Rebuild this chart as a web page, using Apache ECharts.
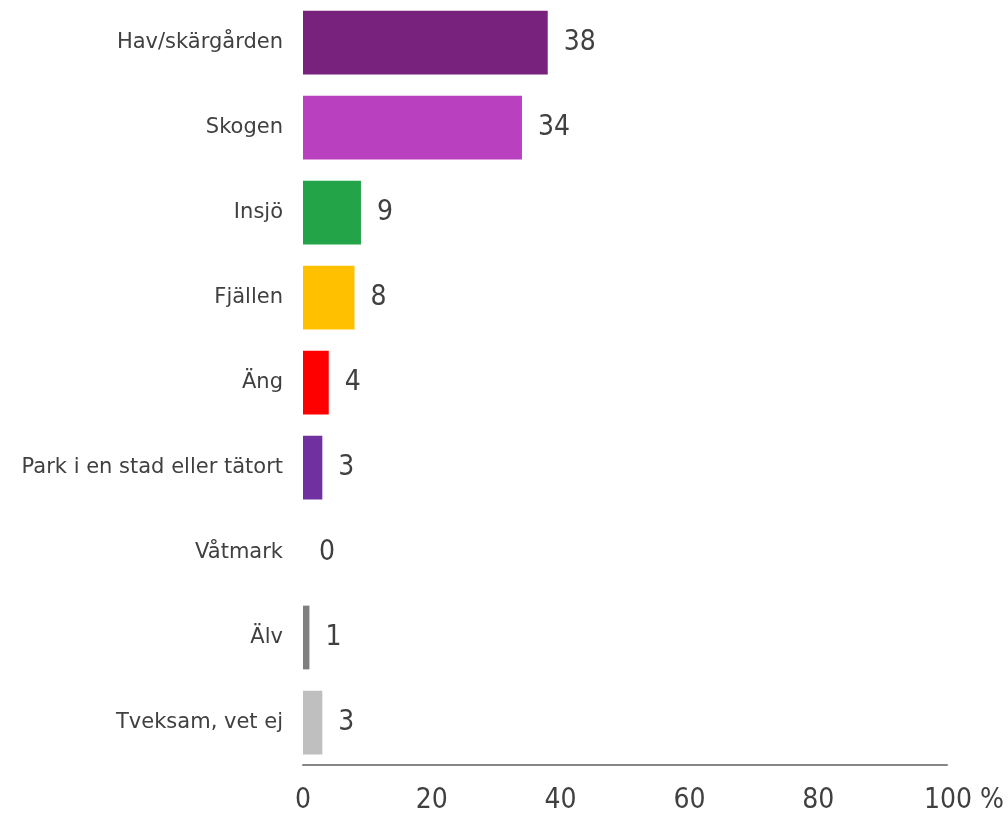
<!DOCTYPE html>
<html><head><meta charset="utf-8">
<script src="https://cdn.jsdelivr.net/npm/echarts@6/dist/echarts.min.js"></script>
<style>html,body{margin:0;padding:0;background:#fff}#c{width:1008px;height:815px}</style>
</head><body><div id="c"></div>
<script>
const categories = ["Hav/skärgården","Skogen","Insjö","Fjällen","Äng","Park i en stad eller tätort","Våtmark","Älv","Tveksam, vet ej"];
const values = [38,34,9,8,4,3,0,1,3];
const colors = ["#78217D","#B940BF","#23A448","#FFC000","#FF0000","#7030A0","#A5A5A5","#7F7F7F","#BFBFBF"];
const xTicks = [0,20,40,60,80,100];

const chart = echarts.init(document.getElementById('c'), null, {renderer:'canvas'});
chart.setOption({
  animation:false,
  grid:{left:303, right:61, height:769, bottom:50, containLabel:false},
  xAxis:{type:'value', min:xTicks[0], max:xTicks[xTicks.length-1], interval:20,
    splitLine:{show:false}, axisTick:{show:false},
    axisLine:{show:true, lineStyle:{color:'#868686', width:2}},
    axisLabel:{margin:22, color:'#404040', fontSize:28, fontFamily:'DejaVu Sans Condensed',
      formatter: v => v===100 ? '{h|100 %}' : String(v),
      rich:{h:{fontSize:28, fontFamily:'DejaVu Sans Condensed', color:'#404040', padding:[0,0,0,34]}}}
  },
  yAxis:{type:'category', data:categories, inverse:true,
    axisLine:{show:false}, axisTick:{show:false},
    axisLabel:{margin:20, color:'#404040', fontSize:21, fontFamily:'DejaVu Sans'}
  },
  series:[{type:'bar', barCategoryGap:'25%',
    data: values.map((v,i)=>({value:v, itemStyle:{color:colors[i]}})),
    label:{show:true, position:'right', distance:16, color:'#404040', fontSize:28, fontFamily:'DejaVu Sans Condensed'}
  }]
});
</script></body></html>
